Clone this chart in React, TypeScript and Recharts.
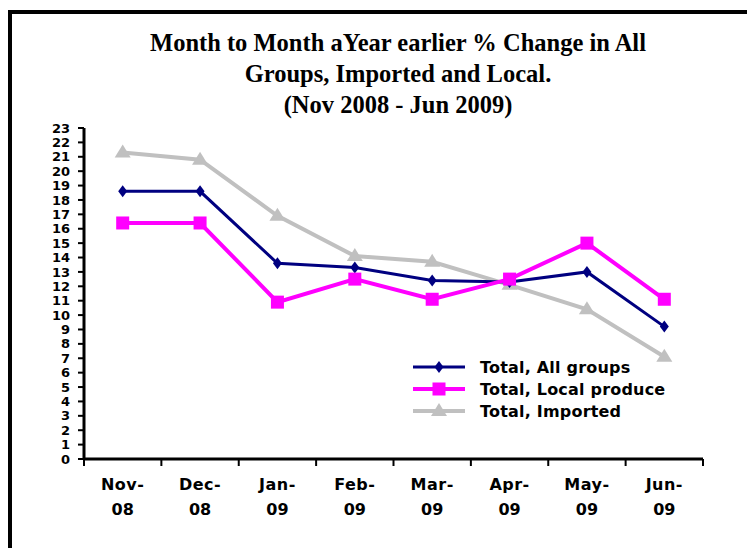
import React from 'react';
import { LineChart, Line, XAxis, YAxis } from 'recharts';

const months = ['Nov-08', 'Dec-08', 'Jan-09', 'Feb-09', 'Mar-09', 'Apr-09', 'May-09', 'Jun-09'];
const allGroups = [18.6, 18.6, 13.6, 13.3, 12.4, 12.3, 13.0, 9.2];
const localProduce = [16.4, 16.4, 10.9, 12.5, 11.1, 12.5, 15.0, 11.1];
const imported = [21.3, 20.8, 16.9, 14.1, 13.7, 12.1, 10.4, 7.1];
const yTicks = Array.from({ length: 24 }, (_, i) => i);

const titleLines = [
  'Month to Month aYear earlier % Change in All',
  'Groups, Imported and Local.',
  '(Nov 2008 - Jun 2009)',
];

const data = months.map((m, i) => ({
  month: m,
  all: allGroups[i],
  local: localProduce[i],
  imported: imported[i],
}));

const NAVY = '#000080';
const MAGENTA = '#FF00FF';
const SILVER = '#C0C0C0';

const series = [
  { key: 'all', name: 'Total, All groups', color: NAVY, width: 3, shape: 'diamond' },
  { key: 'local', name: 'Total, Local produce', color: MAGENTA, width: 4, shape: 'square' },
  { key: 'imported', name: 'Total, Imported', color: SILVER, width: 4, shape: 'triangle' },
];

const W = 747;
const H = 548;
const PLOT_LEFT = 84;
const PLOT_RIGHT = 703;
const PLOT_TOP = 128;
const PLOT_BOTTOM = 459;
const HALF_BAND = (PLOT_RIGHT - PLOT_LEFT) / months.length / 2;
const Y_AXIS_W = 40;
const X_AXIS_H = 70;

const heavy = '"DejaVu Sans", sans-serif';

function Marker({ shape, cx, cy, color }: { shape: string; cx: number; cy: number; color: string }) {
  if (cx == null || cy == null) return null;
  if (shape === 'square') {
    return <rect x={cx - 6.5} y={cy - 6.5} width={13} height={13} fill={color} />;
  }
  if (shape === 'diamond') {
    return (
      <polygon
        points={`${cx},${cy - 6} ${cx + 4.5},${cy} ${cx},${cy + 6} ${cx - 4.5},${cy}`}
        fill={color}
      />
    );
  }
  return (
    <polygon points={`${cx},${cy - 8} ${cx + 8},${cy + 5} ${cx - 8},${cy + 5}`} fill={color} />
  );
}

function XTick(props: any) {
  const { x, y, payload, index } = props;
  const [mon, yr] = String(payload.value).split('-');
  return (
    <g>
      <line x1={x - HALF_BAND} x2={x - HALF_BAND} y1={y} y2={y + 7} stroke="#000" strokeWidth={2} />
      {index === months.length - 1 && (
        <line x1={x + HALF_BAND} x2={x + HALF_BAND} y1={y} y2={y + 7} stroke="#000" strokeWidth={2} />
      )}
      <text
        x={x}
        y={y + 31}
        textAnchor="middle"
        fontFamily={heavy}
        fontWeight="bold"
        fontSize={16}
        letterSpacing={0.5}
        fill="#000"
      >
        {mon}-
      </text>
      <text
        x={x}
        y={y + 56}
        textAnchor="middle"
        fontFamily={heavy}
        fontWeight="bold"
        fontSize={16}
        fill="#000"
      >
        {yr}
      </text>
    </g>
  );
}

function LegendBox() {
  return (
    <div style={{ fontFamily: heavy, fontWeight: 'bold', fontSize: 16, color: '#000' }}>
      {series.map((s) => (
        <div key={s.key} style={{ display: 'flex', alignItems: 'center', height: 22 }}>
          <svg width={54} height={16} style={{ marginRight: 14 }}>
            <line x1={1} x2={53} y1={8} y2={8} stroke={s.color} strokeWidth={s.width} />
            <Marker shape={s.shape} cx={27} cy={8} color={s.color} />
          </svg>
          <span style={{ letterSpacing: 0.2 }}>{s.name}</span>
        </div>
      ))}
    </div>
  );
}

export default function App() {
  const drawOrder = ['imported', 'all', 'local'];
  return (
    <div
      style={{
        position: 'absolute',
        left: 0,
        top: 0,
        width: W,
        height: H,
        overflow: 'hidden',
        background: '#fff',
      }}
    >
      <div
        style={{
          position: 'absolute',
          left: 8,
          top: 10,
          width: 800,
          height: 600,
          border: '4px solid #000',
        }}
      />
      <div
        style={{
          position: 'absolute',
          left: 98,
          top: 27,
          width: 600,
          textAlign: 'center',
          fontFamily: '"Liberation Serif", serif',
          fontWeight: 'bold',
          fontSize: 24.5,
          lineHeight: '31px',
          color: '#000',
        }}
      >
        {titleLines.map((t) => (
          <div key={t}>{t}</div>
        ))}
      </div>
      <div style={{ position: 'absolute', left: 0, top: 0 }}>
        <LineChart
          width={W}
          height={H}
          data={data}
          margin={{
            top: PLOT_TOP,
            right: W - PLOT_RIGHT,
            bottom: H - PLOT_BOTTOM - X_AXIS_H,
            left: PLOT_LEFT - Y_AXIS_W,
          }}
        >
          <XAxis
            dataKey="month"
            interval={0}
            padding={{ left: HALF_BAND, right: HALF_BAND }}
            height={X_AXIS_H}
            axisLine={{ stroke: '#000', strokeWidth: 3 }}
            tickLine={false}
            tickSize={0}
            tickMargin={0}
            tick={<XTick />}
          />
          <XAxis
            xAxisId="top"
            dataKey="month"
            orientation="top"
            height={0}
            tick={false}
            tickLine={false}
            axisLine={{ stroke: '#808080', strokeWidth: 3 }}
          />
          <YAxis
            domain={[0, 23]}
            ticks={yTicks}
            interval={0}
            width={Y_AXIS_W}
            axisLine={{ stroke: '#000', strokeWidth: 3 }}
            tickLine={{ stroke: '#000', strokeWidth: 2 }}
            tickSize={6}
            tickMargin={8}
            tick={{ fontFamily: heavy, fontWeight: 'bold', fontSize: 13, fill: '#000' }}
          />
          <YAxis
            yAxisId="right"
            orientation="right"
            domain={[0, 23]}
            width={0}
            tick={false}
            tickLine={false}
            axisLine={{ stroke: '#808080', strokeWidth: 3 }}
          />
          {drawOrder.map((k) => {
            const s = series.find((x) => x.key === k)!;
            return (
              <Line
                key={s.key}
                type="linear"
                dataKey={s.key}
                name={s.name}
                stroke={s.color}
                strokeWidth={s.width}
                dot={(p: any) => <Marker key={`${s.key}-${p.index}`} shape={s.shape} cx={p.cx} cy={p.cy} color={s.color} />}
                activeDot={false}
                isAnimationActive={false}
              />
            );
          })}
        </LineChart>
      </div>
      <div style={{ position: 'absolute', left: 412, top: 356, width: 320 }}>
        <LegendBox />
      </div>
    </div>
  );
}
